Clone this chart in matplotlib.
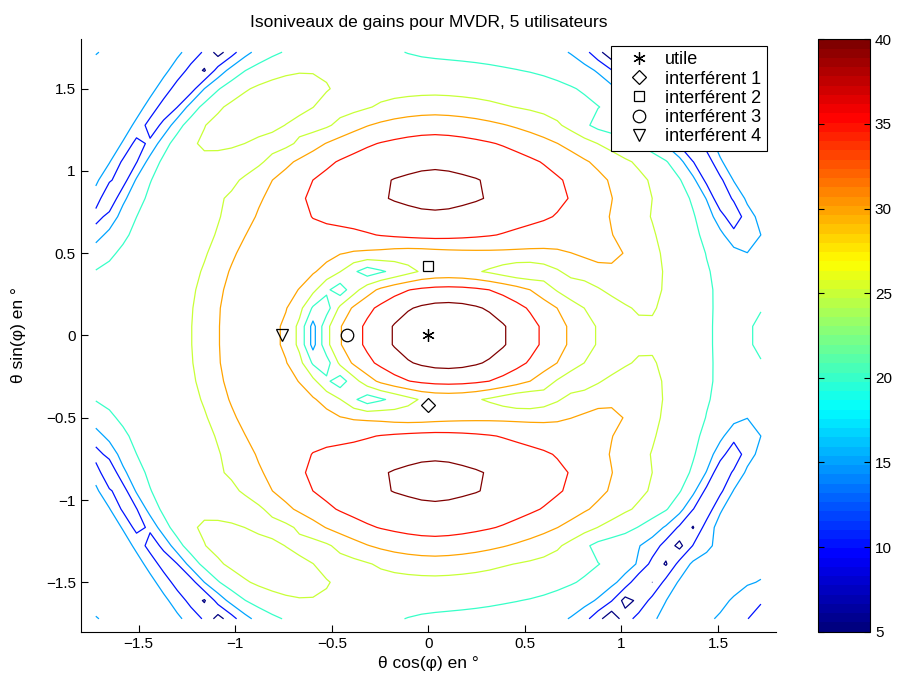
import numpy as np
import matplotlib
matplotlib.use("Agg")
import matplotlib.pyplot as plt
from matplotlib.colors import Normalize, ListedColormap
from matplotlib.cm import ScalarMappable

plt.rcParams["font.family"] = ["Liberation Sans", "DejaVu Sans"]

# users: wanted direction and four interferers (theta cos(phi), theta sin(phi))
user_names = ["utile", "interférent 1", "interférent 2", "interférent 3", "interférent 4"]
user_u = [0.0, 0.0, 0.0, -0.42, -0.76]
user_v = [0.0, -0.42, 0.42, 0.0, 0.0]
user_markers = [(6, 2, 0), "D", "s", "o", "v"]
user_sizes = [9, 7, 7, 9, 9]

gain_levels = [5, 10, 15, 20, 25, 30, 35, 40]
cbar_range = (5, 40)
cbar_ticks = [5, 10, 15, 20, 25, 30, 35, 40]

grid_lim = 1.722
grid_nu = 50
grid_nv = 32

# main beam: centre u, v, peak (dB); widths left/right/vertical; shape
main_beam = (0.09, 0.0, 44.5)
main_width = (0.285, 0.32, 0.205)
main_shape = (4.5, 1.8)

# strong side lobes above and below
side_lobe_u = 0.03
side_lobe_v = [0.88, -0.88]
side_peak = 40.8
side_width = (0.255, 0.275, 0.13, 0.14)   # left, right, towards beam, outwards
side_norm = 1.7
side_profile_d = [0, 0.5, 1, 1.5, 2, 2.5, 3, 3.5, 4, 4.5, 5, 5.5, 6.5, 8, 12]
side_profile_db = [0, 0.17, 0.8, 1.95, 3.7, 6.0, 9.0, 12.5, 16.3, 19.0, 21.2, 23.0, 26.0, 30.0, 38.0]

# ring of secondary lobes: peak (dB) versus azimuth
ring_phi_deg = [0, 10, 27, 45, 60, 90, 110, 125, 140, 160, 180]
ring_peak_db = [22.0, 24.5, 30.0, 29.0, 25.0, 18.0, 24.0, 30.0, 34.2, 33.0, 32.0]
ring_axes = (0.92, 1.10, 0.88)
ring_width = 0.20

# isolated lobes: u, v, peak dB, half-length, half-width, angle (deg), drop at the edge
far_lobes = [
    (-0.88, 1.36, 26.5, 0.33, 0.14, 30.0, 2.2),
    (-0.88, -1.36, 26.5, 0.33, 0.14, -30.0, 2.2),
    (1.90, 0.0, 23.0, 0.15, 0.20, 0.0, 4.3),
    (1.52, 1.30, 17.5, 0.50, 0.10, 118.0, 4.3),
    (1.52, -1.30, 17.5, 0.50, 0.10, -118.0, 4.3),
]

# slowly varying background
bg_peak = 22.0
bg_curv_u = (0.3, 1.4)          # left, right
bg_curv_v = (1.3, 2.0)          # far left, centre and right

# nulls steered around the wanted user (elliptic trough)
trough_axes = (0.60, 1.00, 0.44)
trough_width = 0.075
trough_phi_deg = [0, 32, 80, 108, 122, 134, 150, 171, 180]
trough_depth = [0.50, 0.80, 0.90, 0.985, 0.90, 0.95, 0.90, 0.97, 0.94]

# shallow valleys between lobes: u, v, depth, half-length, width, angle (deg)
gap_nulls = [
    (-0.78, 1.17, 0.6, 0.45, 0.08, 30.0),
    (-0.78, -1.17, 0.6, 0.45, 0.08, -30.0),
    (1.02, 1.25, 0.7, 0.25, 0.07, -10.0),
    (1.02, -1.25, 0.7, 0.25, 0.07, 10.0),
]

# outer null contour (super-ellipse)
outer_null_axes = (1.88, 1.75, 2.40, 2.30)   # a left, a right, b left, b right
outer_null_power = 1.6
outer_null_width = 0.13
outer_null_depth = 0.975

# small additional nulls: u, v, depth, radius
point_nulls = [
    (1.76, 1.72, 0.9, 0.12),
    (1.76, -1.72, 0.9, 0.12),
    (-1.80, 1.80, 0.8, 0.12),
    (-1.80, -1.80, 0.8, 0.12),
    (1.44, -1.27, 0.6, 0.07),
    (1.44, 1.27, 0.6, 0.07),
]


def db2p(z):
    return 10.0 ** (z / 10.0)


def jet64():
    x = np.linspace(0, 1, 64)
    r = np.clip(1.5 - np.abs(4 * x - 3), 0, 1)
    g = np.clip(1.5 - np.abs(4 * x - 2), 0, 1)
    b = np.clip(1.5 - np.abs(4 * x - 1), 0, 1)
    return ListedColormap(np.column_stack([r, g, b]))


def rotate(U, V, u0, v0, ang):
    t = np.radians(ang)
    a = (U - u0) * np.cos(t) + (V - v0) * np.sin(t)
    c = -(U - u0) * np.sin(t) + (V - v0) * np.cos(t)
    return a, c


u = np.linspace(-grid_lim, grid_lim, grid_nu)
v = np.linspace(-grid_lim, grid_lim, grid_nv)
U, V = np.meshgrid(u, v)
R = np.hypot(U, V)
PHI = np.degrees(np.abs(np.arctan2(V, U)))
cphi = np.cos(np.radians(PHI))
sphi = np.sin(np.radians(PHI))

# main beam
du = U - main_beam[0]
su = np.where(du < 0, main_width[0], main_width[1])
d = np.sqrt((du / su) ** 2 + ((V - main_beam[1]) / main_width[2]) ** 2)
power = db2p(main_beam[2] - main_shape[0] * d ** main_shape[1])

# side lobes
for v0 in side_lobe_v:
    du = U - side_lobe_u
    dv = V - v0
    su = np.where(du < 0, side_width[0], side_width[1])
    inward = np.sign(dv) != np.sign(v0)
    sv = np.where(inward, side_width[2], side_width[3])
    q = side_norm
    d = (np.abs(du / su) ** q + np.abs(dv / sv) ** q) ** (1.0 / q)
    power += db2p(side_peak - np.interp(d, side_profile_d, side_profile_db))

# ring
ra = np.where(U < 0, ring_axes[0], ring_axes[1])
rb = ring_axes[2]
r_ring = ra * rb / np.sqrt((rb * cphi) ** 2 + (ra * sphi) ** 2)
ring_db = np.interp(PHI, ring_phi_deg, ring_peak_db)
power += db2p(ring_db - 4.343 * ((R - r_ring) / ring_width) ** 2)

# isolated lobes
for (u0, v0, pk, ha, hc, ang, edge_drop) in far_lobes:
    a, c = rotate(U, V, u0, v0, ang)
    power += db2p(pk - edge_drop * ((a / ha) ** 2 + (c / hc) ** 2))

# background
cx = np.where(U < 0, bg_curv_u[0], bg_curv_u[1])
cy = bg_curv_v[1] - (bg_curv_v[1] - bg_curv_v[0]) * np.clip(-U / 1.4, 0, 1)
power += db2p(bg_peak - cx * U ** 2 - cy * V ** 2)

# trough of nulls around the main beam
ta = np.where(U < 0, trough_axes[0], trough_axes[1])
tb = trough_axes[2]
r_tr = ta * tb / np.sqrt((tb * cphi) ** 2 + (ta * sphi) ** 2)
g = np.exp(-0.5 * ((R - r_tr) / trough_width) ** 2)
power *= 1.0 - np.interp(PHI, trough_phi_deg, trough_depth) * g

# valleys between lobes
for (u0, v0, dep, ha, w, ang) in gap_nulls:
    a, c = rotate(U, V, u0, v0, ang)
    g = np.exp(-0.5 * (c / w) ** 2 - 0.5 * (a / ha) ** 4)
    power *= 1.0 - dep * g

# outer null contour
na = np.where(U < 0, outer_null_axes[0], outer_null_axes[1])
nb = np.where(U < 0, outer_null_axes[2], outer_null_axes[3])
p = outer_null_power
F = (np.abs(U / na) ** p + np.abs(V / nb) ** p) ** (1.0 / p)
g = np.exp(-0.5 * ((F - 1.0) * 1.9 / outer_null_width) ** 2)
power *= 1.0 - outer_null_depth * (1.0 - np.exp(-(V / 0.5) ** 4)) * g

for (u0, v0, dep, rad) in point_nulls:
    power *= 1.0 - dep * np.exp(-0.5 * ((U - u0) ** 2 + (V - v0) ** 2) / rad ** 2)

gain_db = 10.0 * np.log10(power)

# ---- figure ----
fig = plt.figure(figsize=(9.08, 6.79), dpi=100)
ax = fig.add_axes([0.0889, 0.0697, 0.7657, 0.8724])
norm = Normalize(*cbar_range)
cmap = jet64()
ax.contour(U, V, gain_db, levels=gain_levels, cmap=cmap, norm=norm, linewidths=0.9)

for name, x0, y0, mk, ms in zip(user_names, user_u, user_v, user_markers, user_sizes):
    ax.plot([x0], [y0], linestyle="none", marker=mk, markersize=ms,
            markerfacecolor="none", markeredgecolor="black", color="black",
            markeredgewidth=0.9, label=name)

ticks = [-1.5, -1, -0.5, 0, 0.5, 1, 1.5]
tick_text = ["\u22121.5", "\u22121", "\u22120.5", "0", "0.5", "1", "1.5"]
ax.set_xlim(-1.8, 1.8)
ax.set_ylim(-1.8, 1.8)
ax.set_xticks(ticks)
ax.set_yticks(ticks)
ax.set_xticklabels(tick_text)
ax.set_yticklabels(tick_text)
ax.spines["top"].set_visible(False)
ax.spines["right"].set_visible(False)
ax.tick_params(direction="in", length=5, width=0.8, labelsize=11)
ax.set_xlabel("θ cos(φ) en °", fontsize=12.5, labelpad=4)
ax.set_ylabel("θ sin(φ) en °", fontsize=12.5, labelpad=14)
ax.set_title("Isoniveaux de gains pour MVDR, 5 utilisateurs", fontsize=12.5, pad=9)

leg = ax.legend(loc="upper right", bbox_to_anchor=(0.9866, 0.9887), borderaxespad=0,
                fancybox=False, framealpha=1, edgecolor="black", fontsize=13,
                handlelength=2.5, handletextpad=0.2, labelspacing=0.12,
                borderpad=0.3)
leg.get_frame().set_linewidth(0.8)

cax = fig.add_axes([0.9009, 0.0697, 0.0573, 0.8724])
sm = ScalarMappable(norm=norm, cmap=cmap)
cb = fig.colorbar(sm, cax=cax, ticks=cbar_ticks)
cb.outline.set_linewidth(0.8)
cax.tick_params(direction="in", length=4, width=0.8, left=True, right=True, labelsize=11)

fig.savefig("out.png", dpi=100)
